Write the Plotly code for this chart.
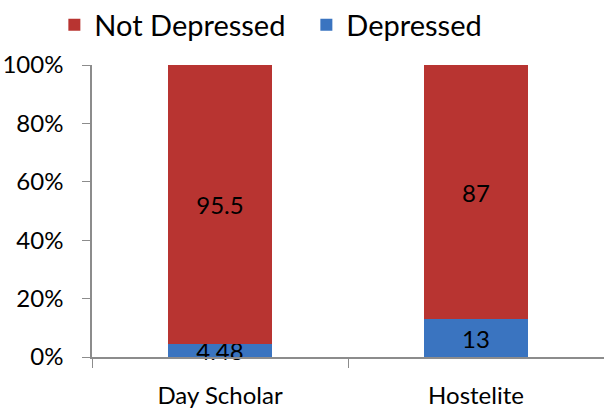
import plotly.graph_objects as go

categories = ["Day Scholar", "Hostelite"]
depressed = [4.48, 13]
not_depressed = [95.5, 87]
y_ticks = [0, 20, 40, 60, 80, 100]
y_tick_labels = ["0%", "20%", "40%", "60%", "80%", "100%"]

FONT = "Lato, 'Open Sans', sans-serif"

fig = go.Figure()
fig.add_trace(go.Bar(
    x=categories, y=depressed, name="Depressed",
    marker=dict(color="#3a74c0", line=dict(width=0)),
    text=[f"{v:g}" for v in depressed], textposition="inside",
    insidetextanchor="middle", constraintext="none", cliponaxis=False,
    textfont=dict(family=FONT, size=24, color="black"),
))
fig.add_trace(go.Bar(
    x=categories, y=not_depressed, name="Not Depressed",
    marker=dict(color="#b83431", line=dict(width=0)),
    text=[f"{v:g}" for v in not_depressed], textposition="inside",
    insidetextanchor="middle", constraintext="none", cliponaxis=False,
    textfont=dict(family=FONT, size=24, color="black"),
))

fig.update_layout(
    width=604, height=412,
    barmode="stack", bargap=0.59,
    margin=dict(l=92, r=0, t=65, b=55, autoexpand=False),
    paper_bgcolor="white", plot_bgcolor="white",
    font=dict(family=FONT, size=24, color="black"),
    showlegend=True,
    legend=dict(
        orientation="h", traceorder="reversed",
        xref="container", yref="container",
        x=0.09, y=1 - 25 / 412, xanchor="left", yanchor="middle",
        font=dict(family=FONT, size=29, color="black"),
        bgcolor="rgba(0,0,0,0)",
        entrywidth=207,
    ),
    xaxis=dict(
        type="category", range=[-0.5, 1.5],
        showline=True, linecolor="#8c8c8c", linewidth=1.5,
        ticks="outside", tickson="boundaries", ticklen=9, tickcolor="#8c8c8c",
        showgrid=False, ticklabelstandoff=16,
    ),
    yaxis=dict(
        range=[0, 100], tickvals=y_ticks, ticktext=y_tick_labels,
        showline=True, linecolor="#8c8c8c", linewidth=1.5,
        ticks="outside", ticklen=8, tickcolor="#8c8c8c",
        showgrid=False, zeroline=False, ticklabelstandoff=14,
    ),
)

fig.write_html("out.html")
